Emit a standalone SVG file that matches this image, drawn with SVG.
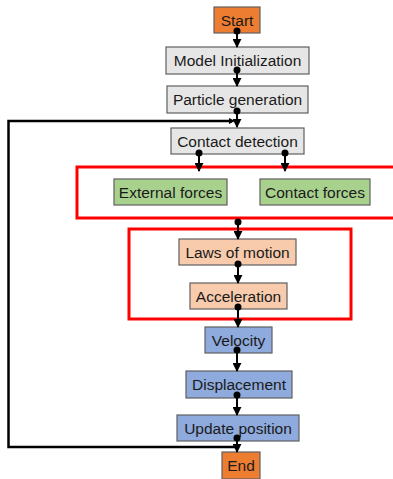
<svg xmlns="http://www.w3.org/2000/svg" width="393" height="479" viewBox="0 0 393 479">
<style>
.n{stroke:#5f5f5f;stroke-width:1.2}
.or{fill:#ED7D31}.gr{fill:#E7E6E6}.gn{fill:#A9D18E}.pc{fill:#F8CBAD}.bl{fill:#8FAADC}
.t{font-family:"Liberation Sans",Arial,sans-serif;font-size:15.5px;fill:#1a1a1a;text-anchor:middle}
.red{fill:none;stroke:#FF0000;stroke-width:3}
.c{fill:none;stroke:#000;stroke-width:2;marker-end:url(#ah)}
.c2{fill:none;stroke:#000;stroke-width:2.5}
.d{fill:#000}
</style>
<defs>
<marker id="ah" viewBox="0 0 10 10" refX="9" refY="5" markerWidth="4.5" markerHeight="4.5" orient="auto" markerUnits="strokeWidth">
<path d="M0,0 L10,5 L0,10 Z" fill="#000"/>
</marker>
</defs>
<g id="groups">
<rect class="red" x="77" y="167" width="320" height="51"/>
<rect class="red" x="129" y="229" width="222" height="90"/>
</g>
<g id="start"><rect class="n or" x="214" y="7" width="46" height="26"/><text class="t" x="237" y="25.5">Start</text></g>
<g id="model-init"><rect class="n gr" x="166" y="47" width="143" height="27"/><text class="t" x="237.5" y="66">Model Initialization</text></g>
<g id="particle-gen"><rect class="n gr" x="167" y="86" width="141" height="27"/><text class="t" x="237.5" y="105">Particle generation</text></g>
<g id="contact-det"><rect class="n gr" x="171" y="128" width="133" height="26"/><text class="t" x="237.5" y="146.5">Contact detection</text></g>
<g id="external-forces"><rect class="n gn" x="114" y="179" width="113" height="26"/><text class="t" x="170.5" y="197.5">External forces</text></g>
<g id="contact-forces"><rect class="n gn" x="260" y="179" width="110" height="26"/><text class="t" x="315" y="197.5">Contact forces</text></g>
<g id="laws"><rect class="n pc" x="179" y="239" width="117" height="26"/><text class="t" x="237.5" y="257.5">Laws of motion</text></g>
<g id="accel"><rect class="n pc" x="190" y="283" width="97" height="26"/><text class="t" x="238.5" y="301.5">Acceleration</text></g>
<g id="velocity"><rect class="n bl" x="205" y="327" width="67" height="26"/><text class="t" x="238.5" y="345.5">Velocity</text></g>
<g id="displacement"><rect class="n bl" x="186" y="371" width="106" height="27"/><text class="t" x="239" y="390">Displacement</text></g>
<g id="update"><rect class="n bl" x="177" y="415" width="122" height="26"/><text class="t" x="238" y="433.5">Update position</text></g>
<g id="end"><rect class="n or" x="222" y="452" width="38" height="27"/><text class="t" x="241" y="471">End</text></g>
<g id="connectors">
<circle class="d" cx="237" cy="31" r="3.5"/><path class="c" d="M237,31 V47"/>
<circle class="d" cx="237" cy="70" r="3.5"/><path class="c" d="M237,70 V86"/>
<circle class="d" cx="237" cy="111" r="3.5"/><path class="c" d="M237,111 V127"/>
<circle class="d" cx="199" cy="153" r="3.5"/><path class="c" d="M199,153 V171"/>
<circle class="d" cx="285" cy="153" r="3.5"/><path class="c" d="M285,153 V171"/>
<circle class="d" cx="238" cy="222" r="3.5"/><path class="c" d="M238,222 V239"/>
<circle class="d" cx="238" cy="264" r="3.5"/><path class="c" d="M238,264 V283"/>
<circle class="d" cx="238" cy="307" r="3.5"/><path class="c" d="M238,307 V327"/>
<circle class="d" cx="237" cy="350" r="3.5"/><path class="c" d="M237,350 V371"/>
<circle class="d" cx="237" cy="395" r="3.5"/><path class="c" d="M237,395 V415"/>
<circle class="d" cx="237" cy="438" r="3.5"/><path class="c" d="M237,438 V452"/>
<path class="c2" d="M238,447 H8.5 V121 H232"/>
<path d="M229,118 L235,121 L229,124 Z" fill="#000"/>
</g>
</svg>
